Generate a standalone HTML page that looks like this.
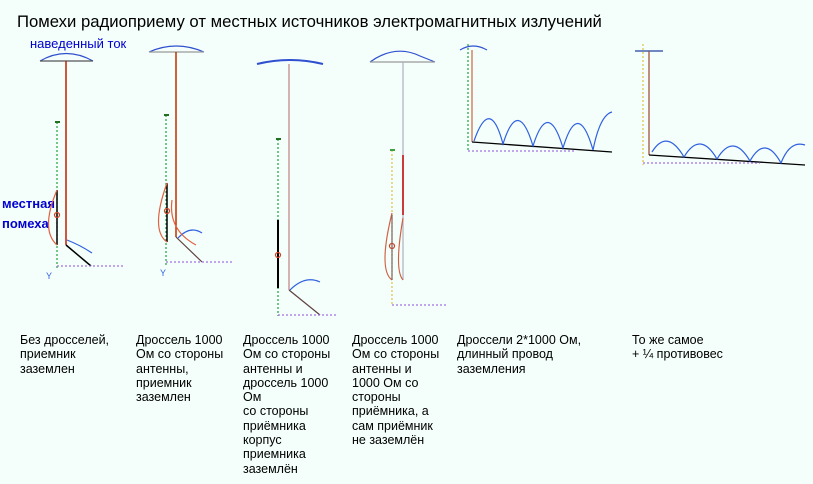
<!DOCTYPE html>
<html><head><meta charset="utf-8"><style>
body{margin:0;width:813px;height:484px;background:#f4fffc;position:relative;overflow:hidden;font-family:"Liberation Sans",sans-serif}
.t{position:absolute;font-size:12.5px;line-height:14.3px;color:#000;white-space:nowrap}
svg{position:absolute;left:0;top:0}
</style></head><body>
<div class="t" style="left:17px;top:12px;font-size:16.7px;line-height:20px">Помехи радиоприему от местных источников электромагнитных излучений</div>
<div class="t" style="left:30px;top:37px;color:#0000d0;font-size:13px">наведенный ток</div>
<div class="t" style="left:2px;top:194px;color:#0000d0;font-weight:bold;font-size:13px;line-height:20px">местная<br>помеха</div>
<div class="t" style="left:20px;top:333px">Без дросселей,<br>приемник<br>заземлен</div>
<div class="t" style="left:136px;top:333px">Дроссель 1000<br>Ом со стороны<br>антенны,<br>приемник<br>заземлен</div>
<div class="t" style="left:243px;top:333px">Дроссель 1000<br>Ом со стороны<br>антенны и<br>дроссель 1000<br>Ом<br>со стороны<br>приёмника<br>корпус<br>приемника<br>заземлён</div>
<div class="t" style="left:352px;top:333px">Дроссель 1000<br>Ом со стороны<br>антенны и<br>1000 Ом со<br>стороны<br>приёмника, а<br>сам приёмник<br>не заземлён</div>
<div class="t" style="left:457px;top:333px">Дроссели 2*1000 Ом,<br>длинный провод<br>заземления</div>
<div class="t" style="left:632px;top:333px">То же самое<br>+ ¼ противовес</div>
<svg width="813" height="484" fill="none" stroke-width="1.2">
<!-- D1 -->
<path d="M40 61 Q66 46 93 61" stroke="#3050d0"/><line x1="40" y1="61" x2="93" y2="61" stroke="#555"/>
<line x1="66" y1="61" x2="66" y2="245" stroke="#c02000" stroke-width="1.5"/>
<line x1="66" y1="245" x2="91" y2="266" stroke="#000" stroke-width="1.5"/>
<path d="M67 240 Q80 245 92 253" stroke="#3060e0"/>
<line x1="57" y1="122" x2="57" y2="268" stroke="#20a040" stroke-dasharray="2 2"/><line x1="55" y1="122" x2="60" y2="122" stroke="#207020" stroke-width="2"/>
<line x1="57" y1="190" x2="57" y2="245" stroke="#000" stroke-width="1.5"/>
<path d="M57 190 Q40 230 57 245" stroke="#e06040"/><circle cx="57" cy="215" r="2.5" stroke="#d04020"/>
<line x1="57" y1="266" x2="125" y2="266" stroke="#a070e0" stroke-dasharray="2 2"/>
<text x="46" y="279" fill="#3060e0" font-size="9" font-family="Liberation Sans">Y</text>
<!-- D2 -->
<path d="M149 52 Q176 40 204 52" stroke="#3050d0"/><line x1="149" y1="52" x2="204" y2="52" stroke="#999"/>
<line x1="176" y1="52" x2="176" y2="237" stroke="#c03000" stroke-width="1.5"/>
<line x1="176" y1="237" x2="202" y2="262" stroke="#604040"/>
<path d="M178 238 Q190 225 202 233" stroke="#3060e0"/>
<line x1="166" y1="115" x2="166" y2="265" stroke="#20a040" stroke-dasharray="2 2"/><line x1="164" y1="115" x2="169" y2="115" stroke="#207020" stroke-width="2"/>
<line x1="167" y1="183" x2="167" y2="242" stroke="#000" stroke-width="1.5"/>
<path d="M167 183 Q150 230 167 242 M172 200 Q168 230 196 245" stroke="#e06040"/><circle cx="167" cy="211" r="2.5" stroke="#d04020"/>
<line x1="166" y1="262" x2="232" y2="262" stroke="#a070e0" stroke-dasharray="2 2"/>
<text x="160" y="276" fill="#3060e0" font-size="9" font-family="Liberation Sans">Y</text>
<!-- D3 -->
<path d="M257 64 Q290 56 323 64" stroke="#3050d0" stroke-width="2"/>
<line x1="289" y1="64" x2="289" y2="290" stroke="#c08080"/>
<line x1="289" y1="290" x2="320" y2="315" stroke="#604040"/>
<path d="M290 290 Q305 275 320 282" stroke="#3060e0"/>
<line x1="278" y1="139" x2="278" y2="316" stroke="#20a040" stroke-dasharray="2 2"/><line x1="276" y1="139" x2="281" y2="139" stroke="#207020" stroke-width="2"/>
<line x1="278" y1="220" x2="278" y2="288" stroke="#000" stroke-width="2"/><circle cx="278" cy="255" r="2.5" stroke="#d04020"/>
<line x1="278" y1="315" x2="338" y2="315" stroke="#a070e0" stroke-dasharray="2 2"/>
<!-- D4 -->
<path d="M370 62 Q395 44 420 56 L435 62" stroke="#3050d0"/><line x1="370" y1="62" x2="435" y2="62" stroke="#999"/>
<line x1="403" y1="62" x2="403" y2="280" stroke="#b0b0c0"/><line x1="403" y1="155" x2="403" y2="215" stroke="#c00000" stroke-width="1.5"/>
<line x1="392" y1="150" x2="392" y2="305" stroke="#e0c040" stroke-dasharray="2 2"/><line x1="390" y1="150" x2="395" y2="150" stroke="#40a040" stroke-width="2"/>
<path d="M392 213 Q378 270 392 280 M403 218 Q394 270 403 280" stroke="#d06040"/><circle cx="392" cy="246" r="2.5" stroke="#d04020"/>
<line x1="392" y1="215" x2="392" y2="280" stroke="#806060"/>
<line x1="392" y1="305" x2="447" y2="305" stroke="#a070e0" stroke-dasharray="2 2"/>
<!-- D5 -->
<path d="M460 50 Q473 42 487 50" stroke="#3050d0"/>
<line x1="468" y1="44" x2="468" y2="152" stroke="#20a040" stroke-dasharray="2 2"/>
<line x1="472" y1="50" x2="472" y2="142" stroke="#d07050" stroke-width="1.3"/>
<line x1="472" y1="142" x2="612" y2="152" stroke="#000" stroke-width="1.3"/>
<path d="M474 141 Q490 95 503 144 Q518 96 533 146 Q548 98 563 148 Q578 98 593 150 Q600 115 612 112" stroke="#3060e0"/>
<line x1="468" y1="151" x2="575" y2="151" stroke="#a070e0" stroke-dasharray="2 2"/>
<!-- D6 -->
<line x1="635" y1="51" x2="663" y2="51" stroke="#2040a0"/>
<line x1="643" y1="44" x2="643" y2="165" stroke="#e0c040" stroke-dasharray="2 2"/>
<line x1="649" y1="51" x2="649" y2="155" stroke="#a05040" stroke-width="1.3"/>
<line x1="649" y1="155" x2="805" y2="165" stroke="#000" stroke-width="1.3"/>
<path d="M652 152 Q667 128 684 157 Q700 130 717 159 Q733 132 750 161 Q765 134 781 163 Q790 140 805 145" stroke="#3060e0"/>
<line x1="643" y1="163" x2="760" y2="163" stroke="#a070e0" stroke-dasharray="2 2"/>
</svg>
</body></html>
